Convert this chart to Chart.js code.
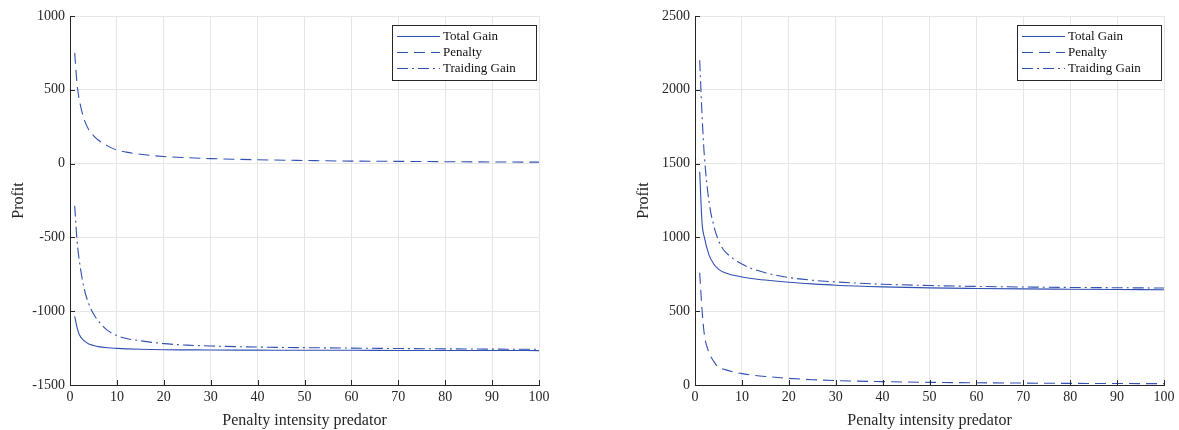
<!DOCTYPE html>
<html>
<head>
<meta charset="utf-8">
<script src="https://cdn.jsdelivr.net/npm/chart.js@4"></script>
<style>
    html, body { margin: 0; padding: 0; background: #fff; }
    #wrap { width: 1179px; height: 430px; position: relative; }
    .panel { position: absolute; top: 0; width: 589px; height: 430px; }
    #left-panel { left: 0; }
    #right-panel { left: 590px; }
</style>
</head>
<body>
<div id="wrap">
    <div class="panel" id="left-panel"><canvas id="left-chart" width="589" height="430"></canvas></div>
    <div class="panel" id="right-panel"><canvas id="right-chart" width="589" height="430"></canvas></div>
</div>
<script>
const xValues = [1, 1.5, 2, 3, 4, 5, 6, 8, 10, 12, 15, 20, 25, 30, 40, 50, 60, 70, 80, 90, 100];
const xTicks = [0, 10, 20, 30, 40, 50, 60, 70, 80, 90, 100];

// left panel
const leftTotal = [-1035, -1110, -1160, -1200, -1222, -1232, -1240, -1248, -1252, -1255, -1258, -1261, -1262, -1263, -1264, -1265, -1265, -1266, -1266, -1266, -1267];
const leftPenalty = [750, 540, 430, 300, 230, 190, 160, 120, 92, 78, 63, 48, 40, 34, 26, 21, 17, 15, 13, 11, 10];
const leftTrading = [-285, -520, -660, -845, -950, -1018, -1065, -1130, -1165, -1185, -1200, -1220, -1230, -1236, -1243, -1247, -1250, -1253, -1255, -1257, -1258];
const leftYTicks = [-1500, -1000, -500, 0, 500, 1000];

// right panel
const rightTotal = [1445, 1100, 1000, 880, 820, 785, 765, 745, 732, 722, 711, 696, 685, 676, 665, 658, 654, 651, 649, 647, 645];
const rightPenalty = [760, 510, 340, 220, 160, 120, 108, 90, 77, 68, 58, 45, 36, 30, 23, 18, 15, 13, 11, 10, 9];
const rightTrading = [2200, 1830, 1550, 1240, 1080, 980, 920, 860, 820, 790, 760, 728, 710, 698, 683, 674, 668, 664, 661, 659, 657];
const rightYTicks = [0, 500, 1000, 1500, 2000, 2500];

const seriesLabels = ['Total Gain', 'Penalty', 'Traiding Gain'];
const lineColor = '#3050b2';
const dashes = [[], [11, 6], [11, 4, 2, 4]];
const axisColor = '#262626';
const serif = '"Liberation Serif", "DejaVu Serif", serif';

function toPoints(ys) {
    return xValues.map((x, i) => ({ x: x, y: ys[i] }));
}

// MATLAB style ticks pointing inwards
const innerTicks = {
    id: 'innerTicks',
    afterDatasetsDraw(chart) {
        const ctx = chart.ctx;
        const area = chart.chartArea;
        const xs = chart.scales.x;
        const ys = chart.scales.y;
        ctx.save();
        ctx.strokeStyle = axisColor;
        ctx.lineWidth = 1;
        xs.ticks.forEach(t => {
            const px = Math.round(xs.getPixelForValue(t.value)) + 0.5;
            ctx.beginPath();
            ctx.moveTo(px, area.bottom);
            ctx.lineTo(px, area.bottom - 5);
            ctx.stroke();
        });
        ys.ticks.forEach(t => {
            const py = Math.round(ys.getPixelForValue(t.value)) + 0.5;
            ctx.beginPath();
            ctx.moveTo(area.left, py);
            ctx.lineTo(area.left + 5, py);
            ctx.stroke();
        });
        ctx.restore();
    }
};

// boxed legend inside the plot, top right
const boxLegend = {
    id: 'boxLegend',
    afterDraw(chart) {
        const ctx = chart.ctx;
        const area = chart.chartArea;
        const w = 144, h = 55;
        const x0 = area.right - w - 3;
        const y0 = area.top + 9;
        ctx.save();
        ctx.fillStyle = '#fff';
        ctx.fillRect(x0, y0, w, h);
        ctx.strokeStyle = '#262626';
        ctx.lineWidth = 1;
        ctx.strokeRect(x0 + 0.5, y0 + 0.5, w, h);
        ctx.font = '13px ' + serif;
        ctx.textBaseline = 'middle';
        chart.data.datasets.forEach((ds, i) => {
            const cy = Math.round(y0 + 11 + i * 16) + 0.5;
            ctx.strokeStyle = ds.borderColor;
            ctx.lineWidth = 1;
            ctx.setLineDash(ds.borderDash);
            ctx.beginPath();
            ctx.moveTo(x0 + 5, cy);
            ctx.lineTo(x0 + 48, cy);
            ctx.stroke();
            ctx.setLineDash([]);
            ctx.fillStyle = '#111';
            ctx.fillText(ds.label, x0 + 51, cy);
        });
        ctx.restore();
    }
};

function makeChart(canvasId, total, penalty, trading, yTicks, padLeft, padRight) {
    const ctx = document.getElementById(canvasId).getContext('2d');
    const series = [total, penalty, trading];
    return new Chart(ctx, {
        type: 'line',
        data: {
            datasets: series.map((ys, i) => ({
                label: seriesLabels[i],
                data: toPoints(ys),
                borderColor: lineColor,
                borderWidth: 1.1,
                borderDash: dashes[i],
                pointRadius: 0,
                fill: false,
                cubicInterpolationMode: 'monotone'
            }))
        },
        options: {
            responsive: false,
            animation: false,
            layout: { padding: { left: padLeft, right: padRight, top: 16, bottom: 0 } },
            plugins: { legend: { display: false }, tooltip: { enabled: false } },
            scales: {
                x: {
                    type: 'linear',
                    min: 0,
                    max: 100,
                    afterBuildTicks: scale => { scale.ticks = xTicks.map(v => ({ value: v })); },
                    afterFit: scale => { scale.height = 45; },
                    ticks: { color: '#262626', font: { family: serif, size: 14 }, padding: 4, maxRotation: 0, callback: v => String(v) },
                    grid: { color: '#e6e6e6', drawTicks: false },
                    border: { color: axisColor, width: 1 },
                    title: { display: true, text: 'Penalty intensity predator', color: '#262626', font: { family: serif, size: 16 }, padding: { top: 1, bottom: 0 } }
                },
                y: {
                    type: 'linear',
                    min: yTicks[0],
                    max: yTicks[yTicks.length - 1],
                    afterBuildTicks: scale => { scale.ticks = yTicks.map(v => ({ value: v })); },
                    afterFit: scale => { scale.width = 70; },
                    ticks: { color: '#262626', font: { family: serif, size: 14 }, padding: 5, callback: v => String(v) },
                    grid: { color: '#e6e6e6', drawTicks: false },
                    border: { color: axisColor, width: 1 },
                    title: { display: true, text: 'Profit', color: '#262626', font: { family: serif, size: 16 }, padding: { top: 9, bottom: 0 } }
                }
            }
        },
        plugins: [innerTicks, boxLegend]
    });
}

makeChart('left-chart', leftTotal, leftPenalty, leftTrading, leftYTicks, 0, 50);
makeChart('right-chart', rightTotal, rightPenalty, rightTrading, rightYTicks, 35, 15);
</script>
</body>
</html>
